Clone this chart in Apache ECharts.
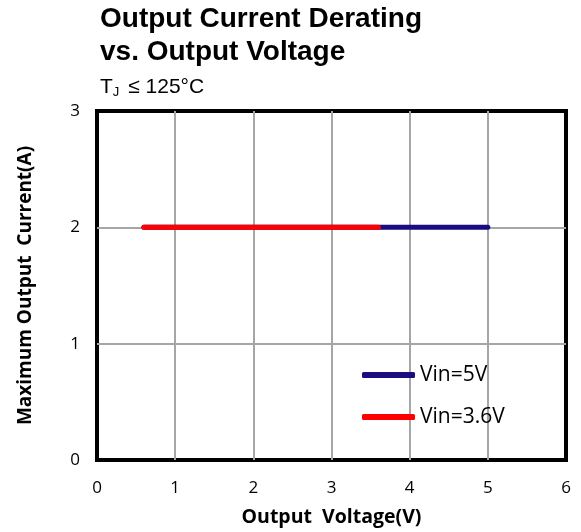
<!DOCTYPE html>
<html><head><meta charset="utf-8">
<script src="https://cdn.jsdelivr.net/npm/echarts@6/dist/echarts.min.js"></script>
<style>html,body{margin:0;padding:0;background:#fff}#c{width:581px;height:532px}</style>
</head><body><div id="c"></div>
<script>
const seriesNames = ['Vin=5V', 'Vin=3.6V'];
const vin5 = [[0.6, 2], [5.0, 2]];
const vin36 = [[0.6, 2], [3.6, 2]];
const xTicks = [0, 1, 2, 3, 4, 5, 6];
const yTicks = [0, 1, 2, 3];

const chart = echarts.init(document.getElementById('c'));
const tickFont = '"Open Sans", Lato, sans-serif';
chart.setOption({
  animation: false,
  title: {
    text: 'Output Current Derating\nvs. Output Voltage',
    subtext: '{t|T}{sub|J}{t| ≤ 125°C}',
    left: 100, top: 3, padding: 0, itemGap: 6,
    textStyle: { fontFamily: 'Liberation Sans, Arial', fontWeight: 'bold', fontSize: 28, lineHeight: 33, color: '#000' },
    subtextStyle: { fontFamily: 'Liberation Sans, Arial', fontSize: 21, lineHeight: 24, color: '#000',
      rich: {
        t: { fontFamily: 'Liberation Sans, Arial', fontSize: 21, lineHeight: 24, color: '#000' },
        sub: { fontFamily: 'Liberation Sans, Arial', fontSize: 13, lineHeight: 24, verticalAlign: 'bottom', padding: [8, 3, 0, 0], color: '#000' }
      } }
  },
  grid: { left: 97, right: 15, top: 111, bottom: 70, show: true, borderColor: '#000', borderWidth: 4, backgroundColor: '#fff', z: 0 },
  legend: {
    orient: 'vertical', left: 357, top: 359, itemGap: 20, itemWidth: 53, itemHeight: 6,
    icon: 'roundRect',
    data: seriesNames,
    textStyle: { fontFamily: tickFont, fontSize: 21, lineHeight: 22, color: '#000' }
  },
  xAxis: {
    type: 'value', min: xTicks[0], max: xTicks[xTicks.length - 1], interval: 1,
    name: 'Output  Voltage(V)', nameLocation: 'middle', nameGap: 47,
    nameTextStyle: { fontFamily: tickFont, fontWeight: 'bold', fontSize: 19.5, color: '#000' },
    axisLine: { show: false }, axisTick: { show: false },
    axisLabel: { fontFamily: tickFont, fontSize: 17, color: '#000', margin: 20 },
    splitLine: { show: true, showMinLine: false, showMaxLine: false, lineStyle: { color: '#a6a6a6', width: 2 } }
  },
  yAxis: {
    type: 'value', min: yTicks[0], max: yTicks[yTicks.length - 1], interval: 1,
    name: 'Maximum Output  Current(A)', nameLocation: 'middle', nameGap: 62,
    nameTextStyle: { fontFamily: tickFont, fontWeight: 'bold', fontSize: 19, color: '#000' },
    axisLine: { show: false }, axisTick: { show: false },
    axisLabel: { fontFamily: tickFont, fontSize: 17, color: '#000', margin: 17 },
    splitLine: { show: true, showMinLine: false, showMaxLine: false, lineStyle: { color: '#a6a6a6', width: 2 } }
  },
  series: [
    { name: seriesNames[0], type: 'line', data: vin5, symbol: 'none', color: '#1a0d80',
      lineStyle: { width: 5, color: '#1a0d80', cap: 'round' } },
    { name: seriesNames[1], type: 'line', data: vin36, symbol: 'none', color: '#ff0000',
      lineStyle: { width: 5, color: '#ff0000', cap: 'round' } }
  ]
});
</script></body></html>
